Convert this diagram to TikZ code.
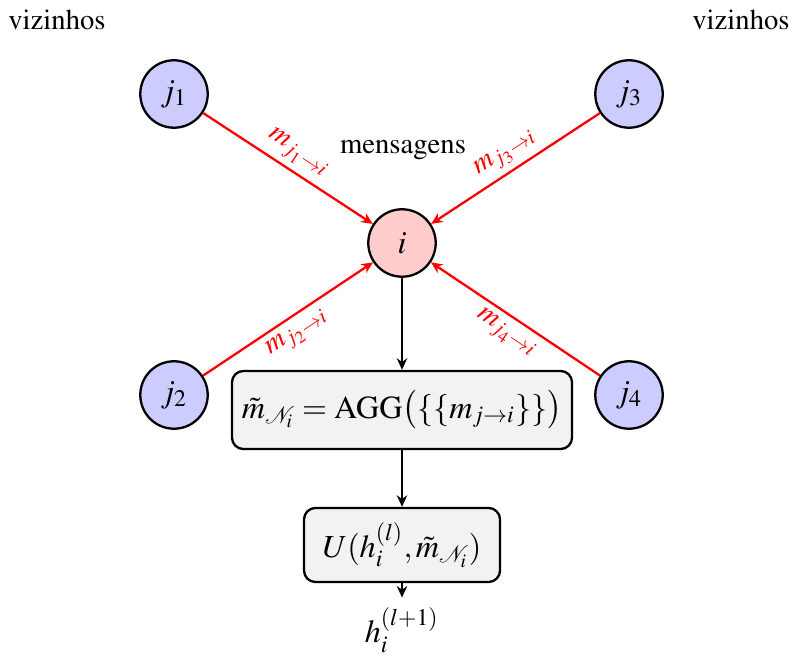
\documentclass[tikz,border=0pt]{standalone}
\usepackage[T1]{fontenc}
\usepackage{mathptmx}
\usetikzlibrary{arrows.meta}
\begin{document}
\begin{tikzpicture}[x=0.3484pt,y=-0.3484pt,
  bigmath/.style={font=\fontsize{11.2pt}{13.5pt}\selectfont},
  nb/.style={circle,draw,thick,fill=blue!20,minimum size=23.5pt,inner sep=0pt,bigmath},
  center/.style={circle,draw,thick,fill=red!20,minimum size=23.5pt,inner sep=0pt,bigmath},
  opbox/.style={rectangle,rounded corners=4pt,draw,thick,fill=gray!10,inner sep=2pt,bigmath},
  msg/.style={-{Stealth[length=4pt,width=3.6pt]},red,thick},
  flow/.style={-{Stealth[length=4pt,width=3.6pt]},thick},
  lab/.style={red,sloped,inner sep=2pt}]
\useasboundingbox (0,0) rectangle (793,668);
\node (vl) at (57,20) {vizinhos};
\node (vr) at (741,20) {vizinhos};
\node (mens) at (403,150) {mensagens};
\node[nb] (j1) at (174,94) {$j_1$};
\node[nb] (j3) at (629,94) {$j_3$};
\node[nb] (j2) at (174,395) {$j_2$};
\node[nb] (j4) at (629,395) {$j_4$};
\node[center] (i) at (402,243) {$i$};
\node[opbox,minimum width=118.5pt,minimum height=27.2pt] (agg) at (402,410)
  {$\tilde{m}_{\mathcal{N}_i} = \mathrm{AGG}\bigl(\{\{m_{j\to i}\}\}\bigr)$};
\node[opbox,minimum width=68.3pt,minimum height=25.8pt] (upd) at (402,545)
  {$U(h_i^{(l)},\tilde{m}_{\mathcal{N}_i})$};
\node[bigmath] (out) at (402,630) {$h_i^{(l+1)}$};
\draw[msg] (j1) -- node[lab,above] {$m_{j_1\to i}$} (i);
\draw[msg] (j3) -- node[lab,above] {$m_{j_3\to i}$} (i);
\draw[msg] (j2) -- node[lab,below] {$m_{j_2\to i}$} (i);
\draw[msg] (j4) -- node[lab,below] {$m_{j_4\to i}$} (i);
\draw[flow] (i) -- (agg);
\draw[flow] (agg) -- (upd);
\draw[flow] (upd) -- (out);
\end{tikzpicture}
\end{document}
